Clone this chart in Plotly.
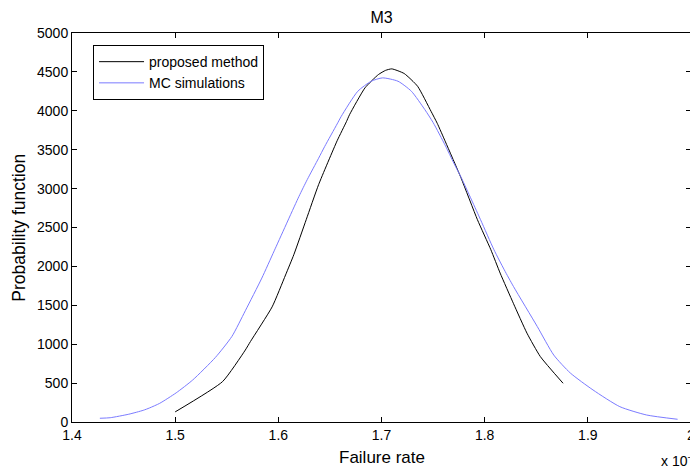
import plotly.graph_objects as go

# Failure rate values in units of 1e-3
prop_x = [1.500, 1.546, 1.568, 1.573, 1.594, 1.607, 1.615, 1.627, 1.639, 1.657, 1.666,
          1.669, 1.684, 1.697, 1.704, 1.710, 1.722, 1.735, 1.748, 1.754, 1.762, 1.777,
          1.793, 1.806, 1.815, 1.828, 1.841, 1.854, 1.876]
prop_y = [130, 520, 925, 1035, 1480, 1890, 2150, 2600, 3050, 3615, 3860,
          3950, 4295, 4466, 4520, 4539, 4479, 4315, 3994, 3840, 3600, 3140,
          2600, 2214, 1914, 1520, 1142, 840, 498]

mc_x = [1.427, 1.437, 1.455, 1.469, 1.475, 1.485, 1.501, 1.517, 1.539, 1.555, 1.568,
        1.584, 1.596, 1.620, 1.628, 1.639, 1.645, 1.657, 1.661, 1.677, 1.690, 1.701,
        1.716, 1.729, 1.742, 1.750, 1.762, 1.770, 1.777, 1.796, 1.809, 1.819, 1.828,
        1.851, 1.867, 1.883, 1.905, 1.931, 1.957, 1.987]
mc_y = [48, 55, 100, 150, 180, 240, 375, 540, 830, 1100, 1430,
        1850, 2200, 2900, 3115, 3390, 3543, 3831, 3929, 4251, 4380, 4423,
        4380, 4251, 4015, 3850, 3550, 3330, 3150, 2600, 2214, 1956, 1740,
        1227, 860, 630, 412, 197, 90, 35]

x_ticks = [1.4, 1.5, 1.6, 1.7, 1.8, 1.9, 2.0]
x_tick_labels = ["1.4", "1.5", "1.6", "1.7", "1.8", "1.9", "2"]
y_ticks = [0, 500, 1000, 1500, 2000, 2500, 3000, 3500, 4000, 4500, 5000]

FONT = "Arial, Liberation Sans, Helvetica, sans-serif"

fig = go.Figure()
fig.add_trace(go.Scatter(x=prop_x, y=prop_y, mode="lines", name="proposed method",
                         line=dict(color="black", width=1, shape="spline", smoothing=0.5)))
fig.add_trace(go.Scatter(x=mc_x, y=mc_y, mode="lines", name="MC simulations",
                         line=dict(color="#7b7bff", width=1, shape="spline", smoothing=0.6)))

axis_common = dict(showgrid=False, zeroline=False, showline=True, linecolor="black",
                   linewidth=1, mirror="ticks", ticks="inside", ticklen=5,
                   tickcolor="black", tickwidth=1, ticklabeloverflow="allow",
                   tickfont=dict(family=FONT, size=14, color="black"))

# The page body adds an 8px offset, so the figure is 8px smaller than the window.
fig.update_layout(
    width=690, height=460,
    margin=dict(l=64, r=3, t=25, b=46),
    paper_bgcolor="white", plot_bgcolor="white",
    font=dict(family=FONT, size=14, color="black"),
    title=dict(text="M3", x=0.5, xref="paper", xanchor="center",
               y=1 - 9 / 460, yref="container", yanchor="middle",
               font=dict(family=FONT, size=16, color="black")),
    xaxis=dict(range=[1.4, 2.0], tickvals=x_ticks, ticktext=x_tick_labels, **axis_common),
    yaxis=dict(range=[0, 5000], tickvals=y_ticks, **axis_common),
    showlegend=True,
    legend=dict(x=0.034, y=0.969, xanchor="left", yanchor="top",
                bgcolor="white", bordercolor="black", borderwidth=1,
                font=dict(family=FONT, size=14, color="black"),
                itemwidth=45, tracegroupgap=0),
    annotations=[
        dict(text="Failure rate", x=0.5, y=-0.09, xref="paper", yref="paper",
             xanchor="center", yanchor="middle", showarrow=False,
             font=dict(family=FONT, size=17, color="black")),
        dict(text="Probability function", x=-0.087, y=0.5, xref="paper", yref="paper",
             xanchor="center", yanchor="middle", textangle=-90, showarrow=False,
             font=dict(family=FONT, size=17.5, color="black")),
        dict(text="x 10<sup>-3</sup>", x=0.9486, y=-0.098, xref="paper", yref="paper",
             xanchor="left", yanchor="middle", showarrow=False,
             font=dict(family=FONT, size=14, color="black")),
    ],
)

fig.write_html("out.html")
